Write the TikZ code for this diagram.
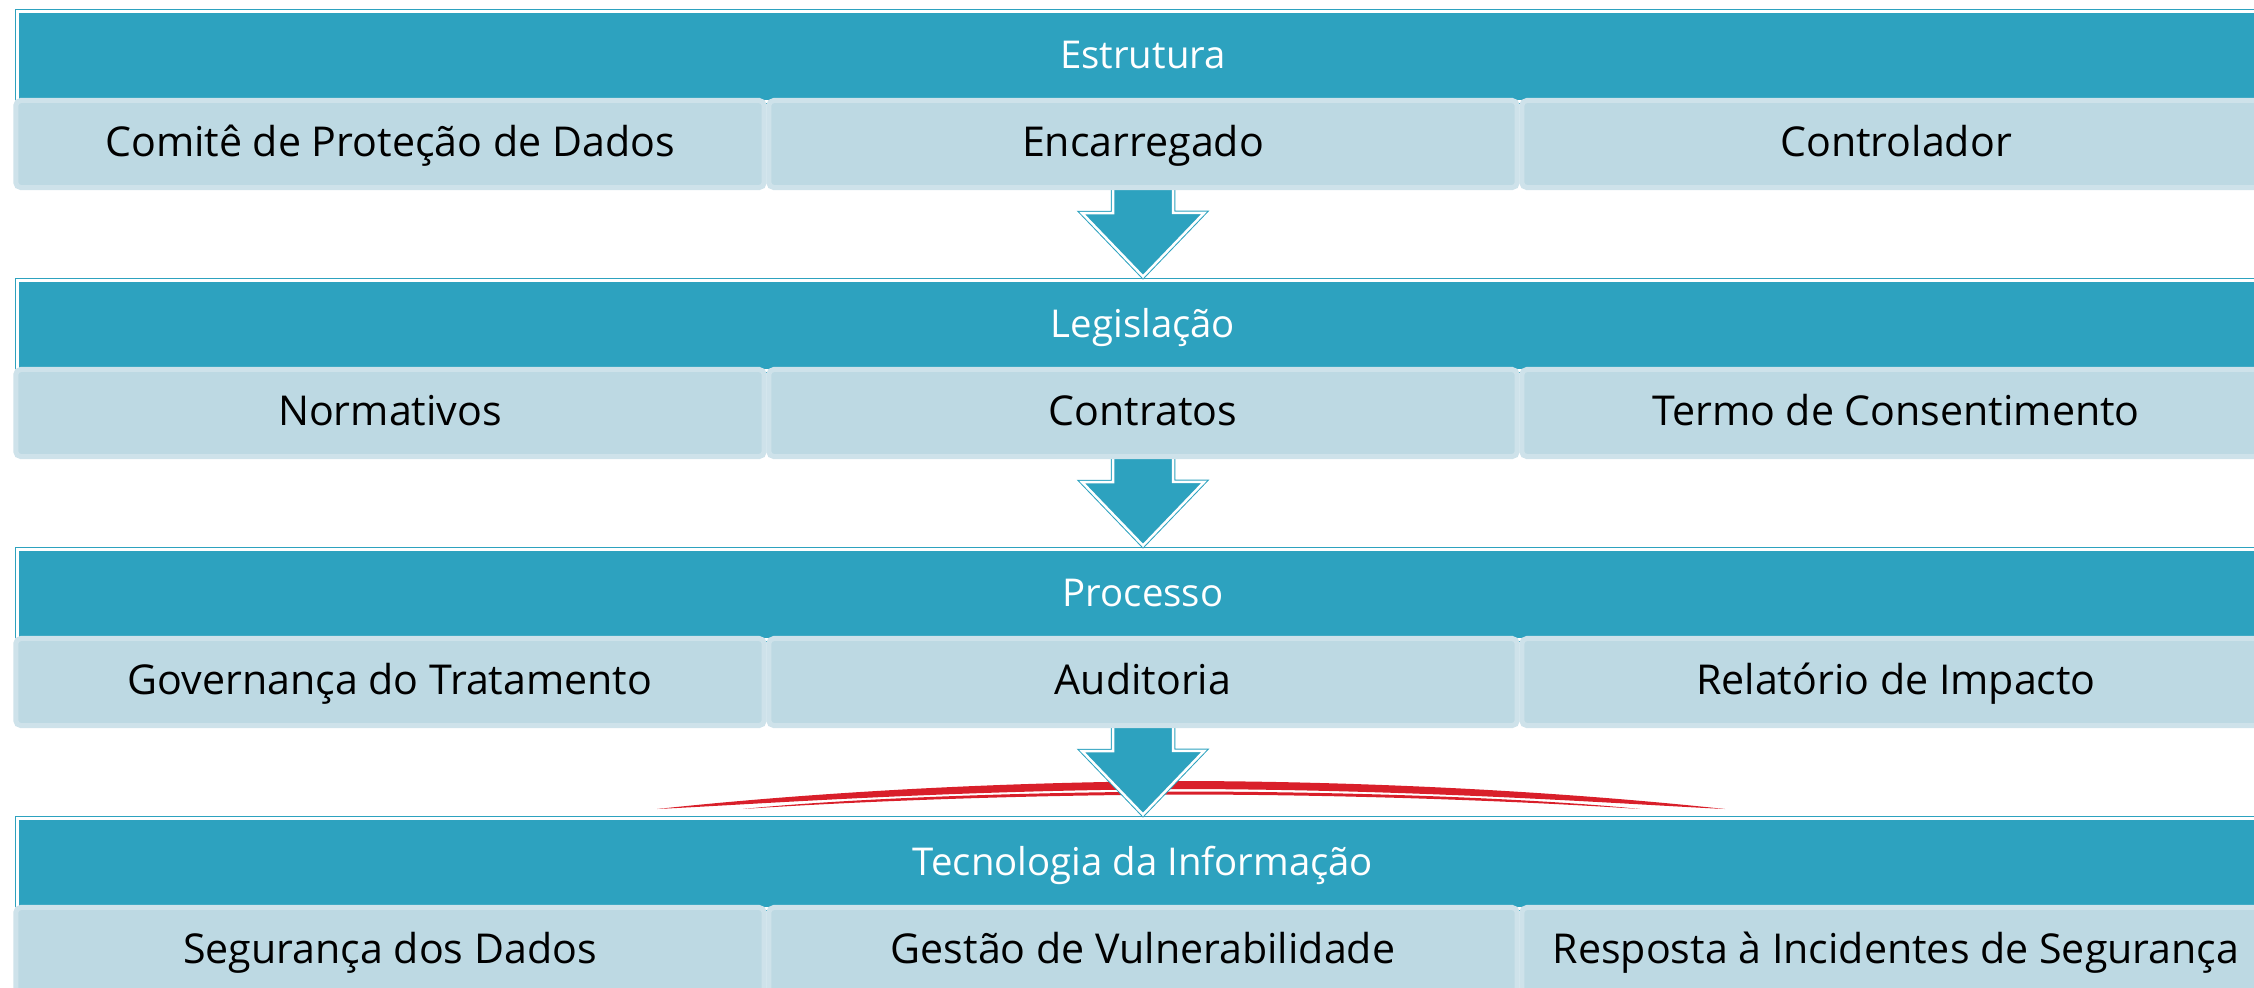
\documentclass[tikz,border=0pt]{standalone}
\usepackage{fontspec}
\setmainfont{Open Sans}
\usepackage{tikz}
\usetikzlibrary{positioning,calc}

\definecolor{bandteal}{HTML}{2DA2BF}
\definecolor{celllight}{HTML}{BDD9E3}
\definecolor{cellrim}{HTML}{CEE2EA}
\definecolor{swooshred}{HTML}{D91F2A}

\tikzset{
  bandtitle/.style={rectangle, fill=bandteal, draw=bandteal, double=white,
    double distance=0.025cm, line width=0.01cm, outer sep=0pt,
    minimum width=22.5cm, minimum height=0.9cm, text=white,
    font=\fontsize{10.9}{13}\selectfont, text height=0.72em, text depth=0.02em},
  bandcell/.style={rectangle, rounded corners=0.05cm, fill=celllight, draw=cellrim,
    line width=0.05cm, minimum width=7.48cm, minimum height=0.87cm,
    font=\fontsize{11.7}{14}\selectfont, text height=0.72em, text depth=0.02em},
  flowarrow/.style={fill=bandteal, draw=bandteal, double=white,
    double distance=0.025cm, line width=0.01cm, line join=miter}
}

\begin{document}
\begin{tikzpicture}[x=0.01cm, y=-0.01cm]
    \useasboundingbox (0,0) rectangle (2254,987);

    % swoosh behind the last arrow
    \fill[swooshred] (657,809) .. controls (760,798) and (950,782) .. (1191,781)
      .. controls (1432,782) and (1622,798) .. (1725,809)
      .. controls (1622,804) and (1432,790) .. (1191,789)
      .. controls (950,790) and (760,804) .. cycle;
    \fill[swooshred] (743,809) .. controls (830,800) and (1000,792) .. (1191,791.5)
      .. controls (1382,792) and (1552,800) .. (1640,809)
      .. controls (1552,803) and (1382,795) .. (1191,794.5)
      .. controls (1000,795) and (830,803) .. cycle;

    % bands
    \node[bandtitle] (estr) at (1143,56.5) {Estrutura};
    \node[bandtitle] (legis) at (1143,325.5) {Legislação};
    \node[bandtitle] (proc) at (1143,594.5) {Processo};
    \node[bandtitle] (tecinf) at (1143,863.5) {Tecnologia da Informação};

    % arrows
    \draw[flowarrow] ($(estr.south)+(-30,78.5)$) -- ++(0,33) -- ++(-31,0)
      -- ($(legis.north)+(0,-4)$) -- ++(61,-63.5) -- ++(-31,0) -- ++(0,-33) -- cycle;
    \draw[flowarrow] ($(legis.south)+(-30,78.5)$) -- ++(0,33) -- ++(-31,0)
      -- ($(proc.north)+(0,-4)$) -- ++(61,-63.5) -- ++(-31,0) -- ++(0,-33) -- cycle;
    \draw[flowarrow] ($(proc.south)+(-30,78.5)$) -- ++(0,33) -- ++(-31,0)
      -- ($(tecinf.north)+(0,-4)$) -- ++(61,-63.5) -- ++(-31,0) -- ++(0,-33) -- cycle;

    \node[bandcell] (estrcomite) at (390,144) {Comitê de Proteção de Dados};
    \node[bandcell] (estrencarr) at (1143,144) {Encarregado};
    \node[bandcell] (estrcontr) at (1896,144) {Controlador};

    \node[bandcell] (legisnorm) at (390,413) {Normativos};
    \node[bandcell] (legiscontr) at (1143,413) {Contratos};
    \node[bandcell] (legistermo) at (1896,413) {Termo de Consentimento};

    \node[bandcell] (procgov) at (390,682) {Governança do Tratamento};
    \node[bandcell] (procaudit) at (1143,682) {Auditoria};
    \node[bandcell] (procrelat) at (1896,682) {Relatório de Impacto};

    \node[bandcell] (tecseg) at (390,951) {Segurança dos Dados};
    \node[bandcell] (tecvuln) at (1143,951) {Gestão de Vulnerabilidade};
    \node[bandcell] (tecresp) at (1896,951) {Resposta à Incidentes de Segurança};
  \end{tikzpicture}
\end{document}
